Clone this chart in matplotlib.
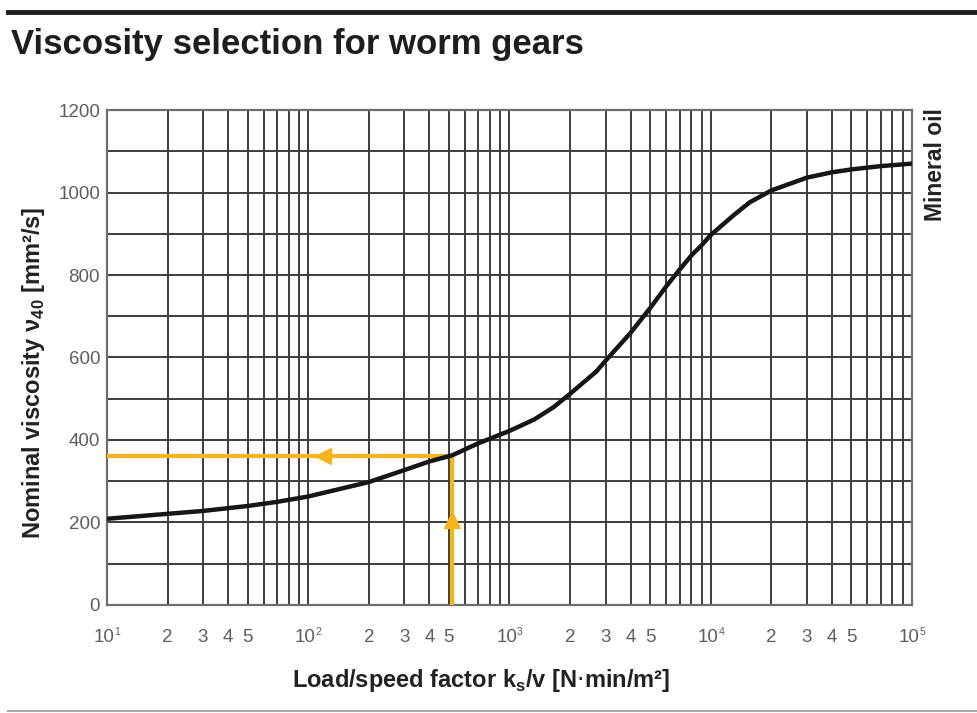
import numpy as np
import matplotlib.pyplot as plt
from matplotlib.ticker import FixedLocator, NullFormatter, MultipleLocator

plt.rcParams['font.family'] = ['Liberation Sans', 'DejaVu Sans']

# curve: load/speed factor vs nominal viscosity
load_speed = [10, 20, 30, 50, 70, 100, 200, 300, 400, 520, 700, 1000, 1330, 1660,
              2000, 2700, 3000, 4000, 5000, 6000, 7000, 8000, 9000, 10000, 13000,
              15600, 20000, 25000, 30000, 40000, 50000, 70000, 100000]
viscosity = [209, 221, 228, 240, 250, 263, 298, 327, 348, 363, 392, 422, 450, 480,
             512, 566, 592, 660, 720, 772, 813, 847, 872, 897, 945,
             976, 1005, 1022, 1036, 1049, 1056, 1064, 1070]

# example reading (orange)
example_k = 520
example_visc = 360
arrow_left_k = 118
arrow_up_visc = 205

decades = [10, 100, 1000, 10000, 100000]
decade_exps = ['1', '2', '3', '4', '5']
minor_labels = ['2', '3', '4', '5']
y_ticks = [0, 200, 400, 600, 800, 1000, 1200]

orange = '#f6b31b'
grid_col = '#3c3c3c'
label_col = '#5e5e5e'
text_col = '#222222'

fig = plt.figure(figsize=(9.78, 7.13), dpi=100)
ax = fig.add_axes([0.1094, 0.1515, 0.8231, 0.6942])

ax.set_xscale('log')
ax.set_xlim(10, 100000)
ax.set_ylim(0, 1200)

# grid: every integer multiple in each decade, every 100 in y
minor_x = [m * d for d in decades[:-1] for m in range(2, 10)]
ax.xaxis.set_major_locator(FixedLocator(decades))
ax.xaxis.set_minor_locator(FixedLocator(minor_x))
ax.yaxis.set_major_locator(FixedLocator(y_ticks))
ax.yaxis.set_minor_locator(MultipleLocator(100))
ax.grid(which='both', color=grid_col, linewidth=1.4)
ax.set_axisbelow(True)

ax.xaxis.set_major_formatter(NullFormatter())
ax.xaxis.set_minor_formatter(NullFormatter())
ax.tick_params(which='both', length=0, labelsize=13.5, labelcolor=label_col)
ax.tick_params(axis='y', pad=5)

xtr = ax.get_xaxis_transform()
lab_y = -0.048
for d, e in zip(decades, decade_exps):
    ax.annotate('10', (d, lab_y), xycoords=xtr, xytext=(-2, 0), textcoords='offset points',
                ha='center', va='top', fontsize=13.5, color=label_col, annotation_clip=False)
    ax.annotate(e, (d, lab_y), xycoords=xtr, xytext=(5.5, 1), textcoords='offset points',
                ha='left', va='top', fontsize=7.5, color=label_col, annotation_clip=False)
    if d < decades[-1]:
        for lab in minor_labels:
            ax.text(int(lab) * d, lab_y, lab, transform=xtr,
                    ha='center', va='top', fontsize=13.5, color=label_col)

for s in ax.spines.values():
    s.set_color('#6e6e6e')
    s.set_linewidth(1.6)

# orange reading lines
ax.plot([example_k, example_k], [0, example_visc], color=orange, lw=3, solid_capstyle='butt', zorder=3)
ax.plot([10, example_k], [example_visc, example_visc], color=orange, lw=3, solid_capstyle='butt', zorder=3)
ax.plot([arrow_left_k], [example_visc], marker='<', color=orange, markersize=11, zorder=4)
ax.plot([example_k], [arrow_up_visc], marker='^', color=orange, markersize=11, zorder=4)

# viscosity curve
ax.plot(load_speed, viscosity, color='#161616', lw=3.2, zorder=5,
        solid_capstyle='round', solid_joinstyle='round')

ax.set_ylabel(r'Nominal viscosity $\mathregular{\nu}_{\mathregular{40}}$ [mm²/s]', fontsize=17,
              fontweight='bold', color=text_col)
ax.yaxis.set_label_coords(-0.074, 0.47)
ax.set_xlabel(r'Load/speed factor k$_\mathregular{s}$/v [N$\cdot$min/m²]', fontsize=17,
              fontweight='bold', color=text_col)
ax.xaxis.set_label_coords(0.465, -0.125)

fig.text(0.957, 0.848, 'Mineral oil', rotation=90, ha='center', va='top',
         fontsize=16.5, fontweight='bold', color=text_col)

fig.text(0.011, 0.937, 'Viscosity selection for worm gears', ha='left', va='center',
         fontsize=25, fontweight='bold', color='#1e1e1e')

# rules above and below
fig.add_artist(plt.Line2D([0.008, 1.0], [0.983, 0.983], color='#1e1e1e', lw=3.5))
fig.add_artist(plt.Line2D([0.008, 1.0], [0.003, 0.003], color='#aaaaaa', lw=1.5))

fig.savefig('out.png', dpi=100)
